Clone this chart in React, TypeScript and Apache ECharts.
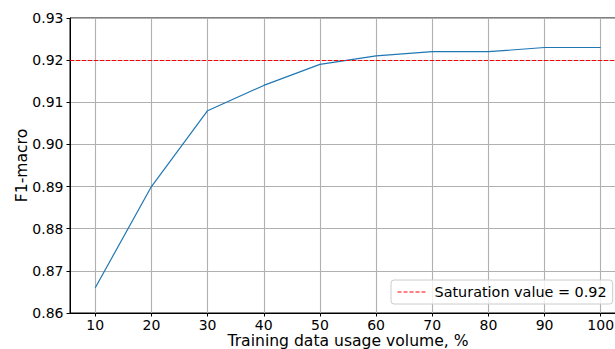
import React, { useEffect, useRef } from "react";
import * as echarts from "echarts";

const volumes = [10, 20, 30, 40, 50, 60, 70, 80, 90, 100];
const f1Macro = [0.866, 0.89, 0.908, 0.914, 0.919, 0.921, 0.922, 0.922, 0.923, 0.923];
const saturationValue = 0.92;
const saturationName = "Saturation value = 0.92";
const xTicks = [10, 20, 30, 40, 50, 60, 70, 80, 90, 100];

const FONT = "DejaVu Sans";
const RED_LINE = { color: "#ff0000", width: 1, type: [4, 2] as number[] };

export default function App() {
  const ref = useRef<HTMLDivElement>(null);
  useEffect(() => {
    if (!ref.current) return;
    const chart = echarts.init(ref.current, undefined, { renderer: "svg" });
    chart.setOption({
      animation: false,
      backgroundColor: "#ffffff",
      grid: {
        left: 70,
        top: 18,
        bottom: 36,
        right: -11,
        outerBoundsMode: "none",
        containLabel: false,
        show: true,
        borderColor: "#000000",
        borderWidth: 1,
        backgroundColor: "transparent",
      },
      legend: {
        show: true,
        data: [saturationName],
        left: 391,
        top: 280,
        padding: [5, 6, 5, 6],
        itemWidth: 30,
        itemHeight: 14,
        itemGap: 10,
        backgroundColor: "rgba(255,255,255,0.8)",
        borderColor: "#cccccc",
        borderWidth: 1,
        borderRadius: 3,
        itemStyle: { color: "transparent", borderWidth: 0, opacity: 0 },
        lineStyle: { color: "#ff0000", width: 1, type: [4, 2], opacity: 1 },
        textStyle: { fontFamily: FONT, fontSize: 14.4, color: "#000000", padding: [0, 0, 0, 2] },
        selectedMode: false,
      },
      xAxis: {
        type: "value",
        min: 5.5,
        max: 104.5,
        name: "Training data usage volume, %",
        nameLocation: "middle",
        nameGap: 20,
        nameMoveOverlap: false,
        nameTextStyle: { fontFamily: FONT, fontSize: 15.6, lineHeight: 16, color: "#000000" },
        axisLine: { show: true, lineStyle: { color: "#000000", width: 1 } },
        axisTick: { show: true, length: 3.5, lineStyle: { color: "#000000" }, customValues: xTicks },
        axisLabel: {
          show: true,
          customValues: xTicks,
          margin: 5,
          lineHeight: 14,
          fontFamily: FONT,
          fontSize: 14,
          color: "#000000",
          formatter: (v: number) => String(v),
        },
        splitLine: { show: true, lineStyle: { color: "#b0b0b0", width: 1.1 } },
      },
      yAxis: {
        type: "value",
        min: 0.86,
        max: 0.93,
        interval: 0.01,
        name: "F1-macro",
        nameLocation: "middle",
        nameGap: 40,
        nameMoveOverlap: false,
        nameTextStyle: { fontFamily: FONT, fontSize: 15.6, color: "#000000" },
        axisLine: { show: true, lineStyle: { color: "#000000", width: 1 } },
        axisTick: { show: true, length: 3.5, lineStyle: { color: "#000000" } },
        axisLabel: {
          margin: 6.5,
          fontFamily: FONT,
          fontSize: 14,
          color: "#000000",
          formatter: (v: number) => v.toFixed(2),
        },
        splitLine: { show: true, lineStyle: { color: "#b0b0b0", width: 1.1 } },
      },
      series: [
        {
          name: "F1-macro",
          type: "line",
          data: volumes.map((v, i) => [v, f1Macro[i]]),
          symbol: "none",
          lineStyle: { color: "#1f77b4", width: 1.2 },
          itemStyle: { color: "#1f77b4" },
          z: 3,
        },
        {
          name: saturationName,
          type: "line",
          color: "#ff0000",
          data: [],
          symbol: "none",
          lineStyle: RED_LINE,
          itemStyle: { color: "#ff0000" },
          markLine: {
            silent: true,
            symbol: ["none", "none"],
            label: { show: false },
            lineStyle: RED_LINE,
            data: [{ yAxis: saturationValue, lineStyle: RED_LINE }],
          },
          z: 4,
        },
      ],
    });
    return () => chart.dispose();
  }, []);
  return (
    <div
      ref={ref}
      style={{ position: "fixed", left: 0, top: 0, width: 615, height: 349, overflow: "hidden" }}
    />
  );
}
